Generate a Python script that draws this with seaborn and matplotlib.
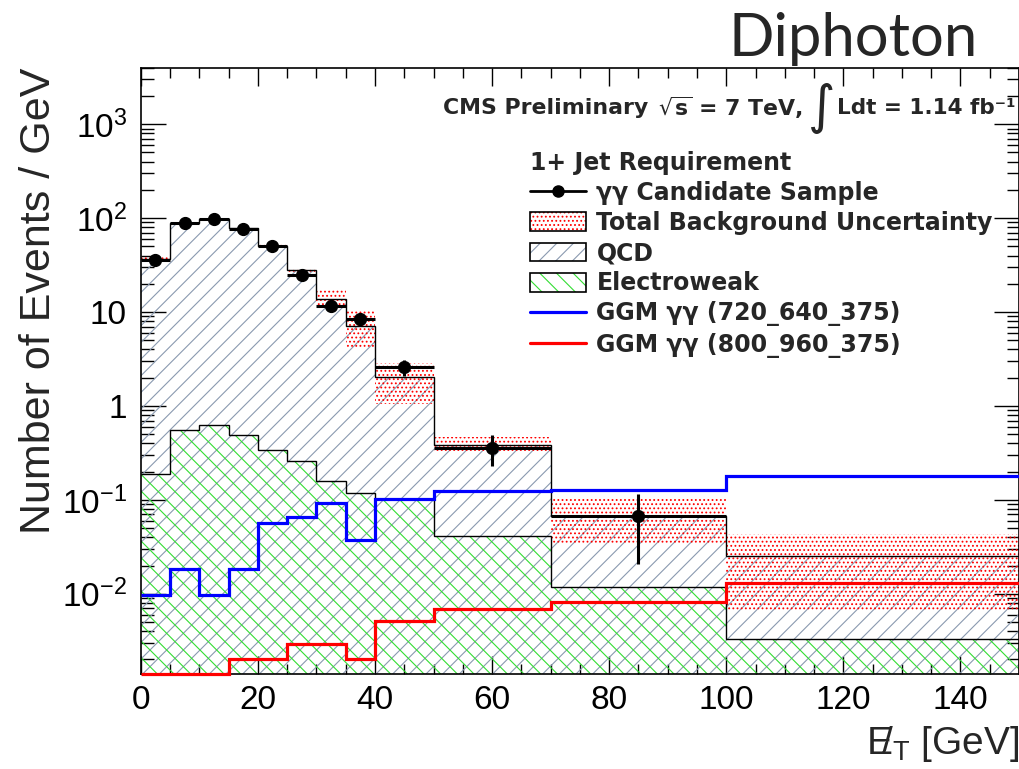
import numpy as np
import matplotlib
matplotlib.use('Agg')
import matplotlib.pyplot as plt
from matplotlib.patches import Patch
from matplotlib.lines import Line2D
from matplotlib.ticker import MultipleLocator, LogLocator, NullFormatter
import seaborn as sns

# ---- values (events / GeV) ----
met_edges = [0, 5, 10, 15, 20, 25, 30, 35, 40, 50, 70, 100, 150]
total_bkg = [36.6, 88, 97.6, 78, 51, 28, 13.8, 7.1, 2.04, 0.387, 0.068, 0.0255]
electroweak = [0.19, 0.56, 0.62, 0.49, 0.34, 0.26, 0.16, 0.119, 0.102, 0.041, 0.0117, 0.0033]
unc_low = [34.5, 84, 94, 74, 48, 27, 11.5, 4.0, 1.06, 0.33, 0.035, 0.0066]
unc_high = [39.5, 92, 101, 81, 53, 29, 17.6, 10.3, 2.87, 0.47, 0.103, 0.043]
ggm_720 = [0.0098, 0.0185, 0.0098, 0.0185, 0.057, 0.066, 0.093, 0.037, 0.102, 0.124, 0.126, 0.178]
ggm_800 = [0, 0, 0, 0.002, 0.002, 0.0029, 0.0029, 0.002, 0.0052, 0.0069, 0.0081, 0.0129]

data_x = [2.5, 7.5, 12.5, 17.5, 22.5, 27.5, 32.5, 37.5, 45, 60, 85]
data_y = [35.4, 88, 97.6, 76, 50, 25, 11.7, 8.4, 2.6, 0.357, 0.068]
data_err = [2.7, 4.2, 4.4, 3.9, 3.2, 2.2, 1.5, 1.3, 0.5, 0.13, 0.047]

ytick_vals = [1e-2, 1e-1, 1, 10, 1e2, 1e3]
ytick_labels = ['$10^{-2}$', '$10^{-1}$', '1', '10', '$10^{2}$', '$10^{3}$']

ymin, ymax = 0.0014, 4000

qcd_col = '#8a9ab0'
ew_col = '#33dd33'
bold_font = ['DejaVu Sans']

sns.set_theme(style='ticks')
plt.rcParams['font.family'] = ['Liberation Sans', 'DejaVu Sans']
plt.rcParams['mathtext.fontset'] = 'custom'
plt.rcParams['mathtext.rm'] = 'Liberation Sans'
plt.rcParams['mathtext.it'] = 'Liberation Sans:italic'
plt.rcParams['mathtext.bf'] = 'Liberation Sans:bold'
plt.rcParams['hatch.linewidth'] = 0.8

fig = plt.figure(figsize=(10.2, 7.69), dpi=100)
ax = fig.add_axes([0.138, 0.1235, 0.861, 0.7885])
ax.set_yscale('log')

edges = np.array(met_edges)
centers = (edges[:-1] + edges[1:]) / 2
widths = np.diff(edges)

# stacked background: QCD hatch under total, electroweak hatch on top
sns.histplot(x=centers, weights=total_bkg, bins=met_edges, element='step', fill=True,
             color=qcd_col, facecolor='none', edgecolor=qcd_col, linewidth=0, hatch='//',
             ax=ax, zorder=1)
sns.histplot(x=centers, weights=electroweak, bins=met_edges, element='step', fill=True,
             color=ew_col, facecolor='none', edgecolor=ew_col, linewidth=0, hatch='\\\\',
             ax=ax, zorder=1.1)

# background uncertainty band
ax.stairs(unc_high, edges, baseline=unc_low, fill=True, facecolor='none',
          edgecolor='red', hatch='....', linewidth=0, zorder=1.2)

ax.stairs(total_bkg, edges, baseline=None, color='black', linewidth=1.0, zorder=2)
ax.stairs(electroweak, edges, baseline=None, color='black', linewidth=1.0, zorder=2)

ax.stairs(ggm_720, edges, baseline=None, color='#0000ff', linewidth=2.3, zorder=3)
# empty bins of the second signal sit on the lower frame, as in the original
ax.stairs(np.clip(ggm_800, ymin, None), edges, baseline=None, color='#ff0000',
          linewidth=2.3, zorder=5, clip_on=False)

ax.errorbar(data_x, data_y, xerr=widths[:len(data_x)] / 2, yerr=data_err, fmt='o',
            color='black', ms=8.5, elinewidth=2.2, capsize=0, zorder=4)

ax.set_xlim(0, 150)
ax.set_ylim(ymin, ymax)
ax.xaxis.set_major_locator(MultipleLocator(20))
ax.xaxis.set_minor_locator(MultipleLocator(5))
ax.set_yticks(ytick_vals, ytick_labels)
ax.yaxis.set_minor_locator(LogLocator(base=10, subs=np.arange(2, 10)))
ax.yaxis.set_minor_formatter(NullFormatter())
ax.tick_params(which='both', direction='in', top=True, right=True, labelsize=24, colors='black')
ax.tick_params(axis='x', which='major', length=13, width=1, pad=8)
ax.tick_params(axis='x', which='minor', length=7, width=1)
ax.tick_params(axis='y', which='major', length=18, width=1, pad=10)
ax.tick_params(axis='y', which='minor', length=9, width=1)
for s in ax.spines.values():
    s.set_linewidth(1.2)
    s.set_color('black')

ax.set_ylabel('Number of Events / GeV', fontsize=31, loc='top', labelpad=2)
ax.set_xlabel(r'$\mathregular{/\!\!\!\!\!E_{T}}$ [GeV]', fontsize=28, loc='right', labelpad=6)

# CMS header line, in pieces so the integral sign can be large
y_head = 1 - 108 / 769
fig.text(443 / 1020, y_head, 'CMS Preliminary', fontsize=15.8, family=bold_font,
         fontweight='bold', va='center')
fig.text(658 / 1020, y_head, r'$\mathbf{\sqrt{s}}$ = 7 TeV,', fontsize=15.8, family=bold_font,
         fontweight='bold', va='center', math_fontfamily='dejavusans')
fig.text(808 / 1020, y_head, '∫', fontsize=38, family=['DejaVu Sans'], va='center')
fig.text(837 / 1020, y_head, 'Ldt = 1.14 fb⁻¹', fontsize=15.5,
         family=bold_font, fontweight='bold', va='center')

fig.text(978 / 1020, 1 - 56 / 769, 'Diphoton', fontsize=43, family=['Lato', 'DejaVu Sans'],
         ha='right', va='baseline')

handles = [
    Line2D([], [], color='black', marker='o', ms=8, lw=2),
    (Patch(facecolor='white', edgecolor='red', hatch='....', linewidth=0),
     Patch(facecolor='none', edgecolor='black', linewidth=1.2)),
    (Patch(facecolor='white', edgecolor=qcd_col, hatch='//', linewidth=0),
     Patch(facecolor='none', edgecolor='black', linewidth=1.2)),
    (Patch(facecolor='white', edgecolor=ew_col, hatch='\\\\', linewidth=0),
     Patch(facecolor='none', edgecolor='black', linewidth=1.2)),
    Line2D([], [], color='#0000ff', lw=2.3),
    Line2D([], [], color='#ff0000', lw=2.3),
]
labels = ['γγ Candidate Sample', 'Total Background Uncertainty', 'QCD', 'Electroweak',
          'GGM γγ (720_640_375)', 'GGM γγ (800_960_375)']
leg = ax.legend(handles, labels, title='1+ Jet Requirement', loc='upper left',
                bbox_to_anchor=(0.443, 0.863), frameon=False, alignment='left',
                prop={'size': 17, 'weight': 'bold', 'family': bold_font},
                title_fontproperties={'size': 17, 'weight': 'bold', 'family': bold_font},
                handlelength=2.4, handleheight=0.85, handletextpad=0.42,
                labelspacing=0.26, borderpad=0, borderaxespad=0)

fig.savefig('out.png', dpi=100)
